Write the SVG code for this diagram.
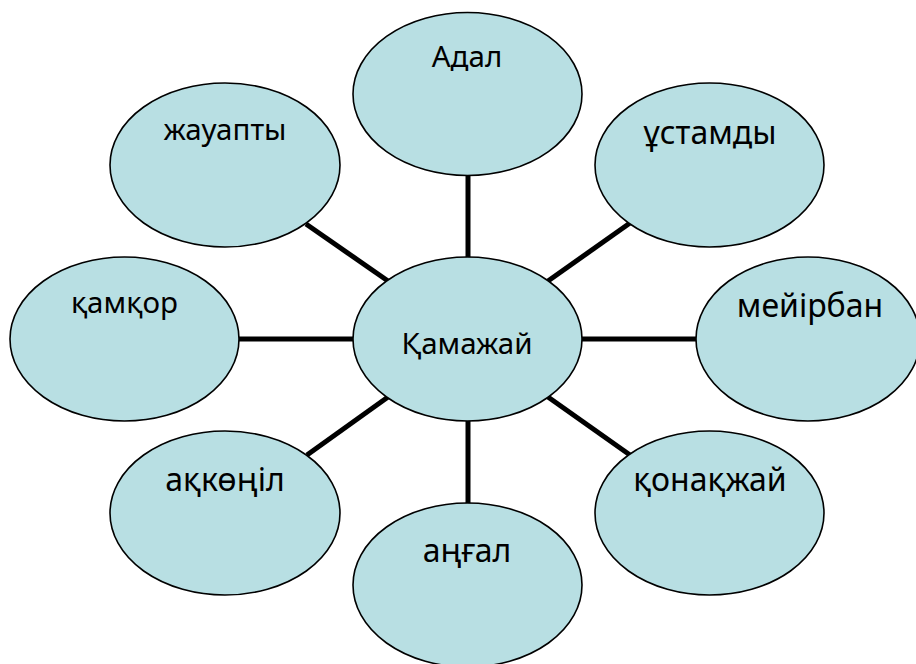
<svg xmlns="http://www.w3.org/2000/svg" width="916" height="664" viewBox="0 0 916 664">
<style>
.node ellipse{fill:#B8DFE3;stroke:#000;stroke-width:1.6}
.conn line{stroke:#000;stroke-width:5}
text{font-family:"Noto Sans","Open Sans","DejaVu Sans",sans-serif;fill:#000;text-anchor:middle}
.s{font-size:29.5px}
.l{font-size:32px}
</style>
<rect width="916" height="664" fill="#fff"/>
<g id="connectors" class="conn">
<line x1="468" y1="175" x2="468" y2="258"/>
<line x1="306" y1="224" x2="388" y2="281"/>
<line x1="548" y1="281" x2="630" y2="223"/>
<line x1="239" y1="339" x2="353" y2="339"/>
<line x1="582" y1="339" x2="696" y2="339"/>
<line x1="307" y1="455" x2="388" y2="397"/>
<line x1="548" y1="397" x2="630" y2="455"/>
<line x1="468" y1="420" x2="468" y2="504"/>
</g>
<g id="node-adal" class="node"><ellipse cx="467.5" cy="94" rx="114.5" ry="81.5"/><text class="s" x="467" y="67">Адал</text></g>
<g id="node-zhauapty" class="node"><ellipse cx="225" cy="165" rx="115" ry="82"/><text class="s" x="225" y="140">жауапты</text></g>
<g id="node-ustamdy" class="node"><ellipse cx="709.5" cy="165" rx="114.5" ry="82"/><text class="l" x="710" y="144">ұстамды</text></g>
<g id="node-kamkor" class="node"><ellipse cx="124.5" cy="339" rx="114.5" ry="82"/><text class="s" x="124.5" y="313">қамқор</text></g>
<g id="node-meyirban" class="node"><ellipse cx="808" cy="339" rx="112" ry="82"/><text class="l" x="810" y="317">мейірбан</text></g>
<g id="node-akkonil" class="node"><ellipse cx="225" cy="513" rx="115" ry="82"/><text class="l" x="225" y="491">ақкөңіл</text></g>
<g id="node-konakzhay" class="node"><ellipse cx="709.5" cy="513" rx="114.5" ry="82"/><text class="l" x="710" y="491">қонақжай</text></g>
<g id="node-angal" class="node"><ellipse cx="467.5" cy="585" rx="114.5" ry="82"/><text class="l" x="467" y="562">аңғал</text></g>
<g id="node-kamazhay" class="node"><ellipse cx="467.5" cy="339" rx="114.5" ry="82"/><text class="s" x="467" y="354">Қамажай</text></g>
</svg>
